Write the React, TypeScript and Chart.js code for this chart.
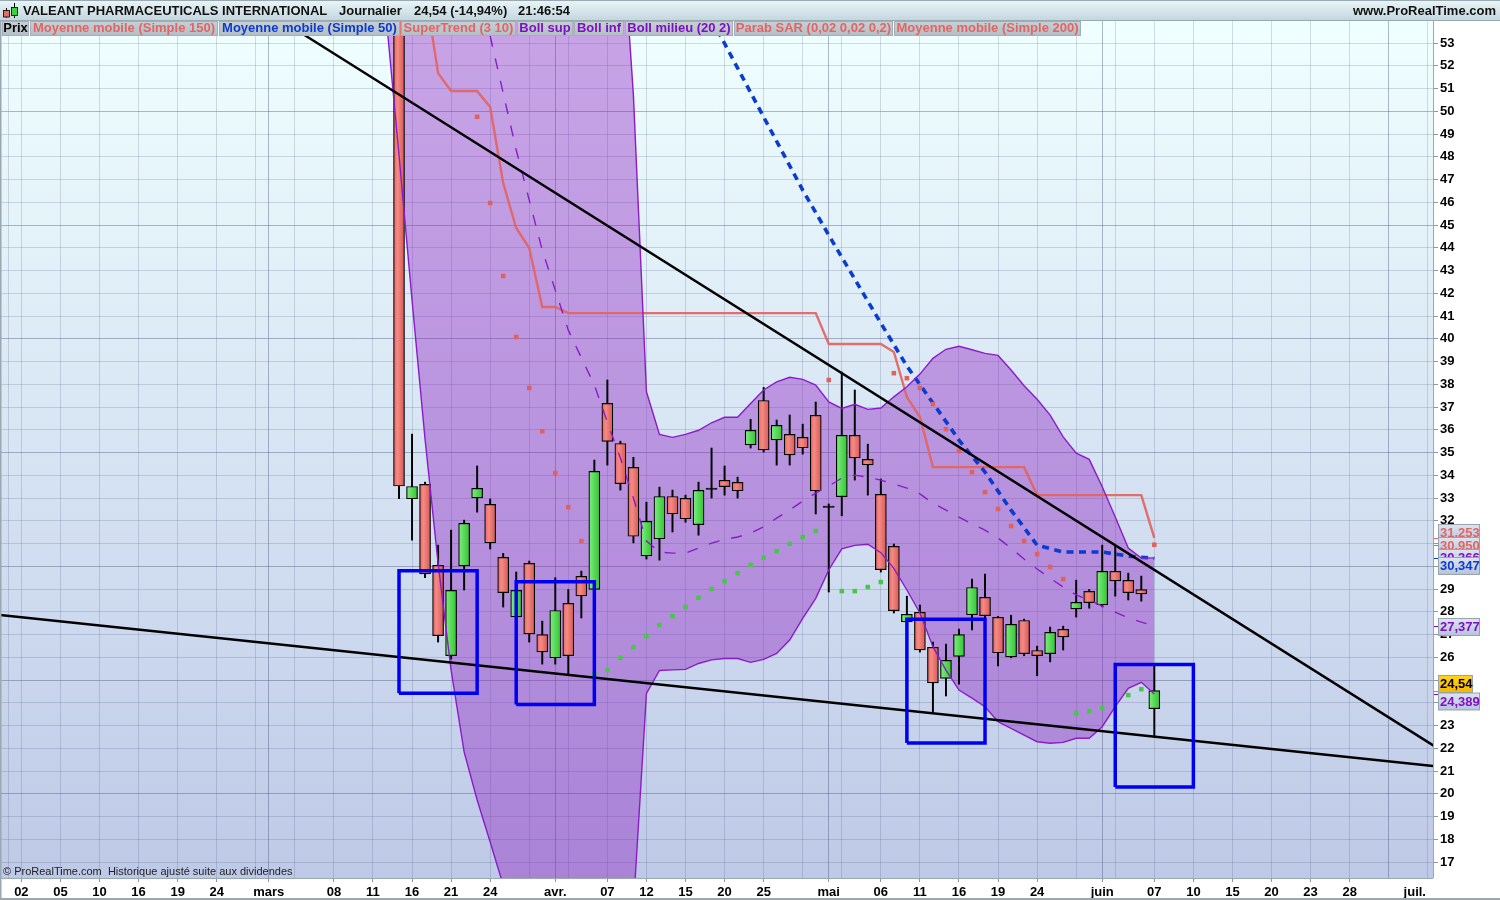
import React, { useEffect, useRef } from "react";
import { Chart, registerables } from "chart.js";

Chart.register(...registerables);

// ---------- data (x is a trading-day slot, prices in dollars) ----------
const candleSlots = [29,30,31,32,33,34,35,36,37,38,39,40,41,42,43,44,45,46,47,48,49,50,51,52,53,54,55,56,57,58,59,60,61,62,63,64,65,66,67,68,69,70,71,72,73,74,75,76,77,78,79,80,81,82,83,84,85,86,87];
const opens  = [62,32.97,33.60,30.04,26.07,30.02,33.01,32.72,30.39,27.78,30.13,27.00,25.98,28.37,29.56,28.99,37.16,35.40,34.35,30.46,31.21,33.07,32.99,31.83,33.44,33.78,33.69,35.34,37.29,35.56,35.80,35.67,36.64,32.65,33.06,35.76,34.70,33.16,30.88,27.56,27.98,26.44,25.07,26.04,27.87,28.64,27.76,26.02,27.62,26.30,26.16,27.23,28.13,28.90,28.31,29.78,29.38,28.98,23.74];
const highs  = [64,35.81,33.70,30.93,31.59,32.03,34.41,32.96,30.57,29.75,30.23,27.59,29.50,28.98,29.79,34.67,38.19,35.50,34.79,32.82,33.48,33.35,33.13,33.70,35.20,34.41,33.92,36.46,37.87,36.43,36.65,36.25,37.22,32.74,38.54,37.75,35.37,33.84,30.98,28.69,28.30,26.67,26.58,27.24,29.44,29.66,27.80,27.85,27.68,26.49,27.33,27.37,29.39,28.98,30.93,30.89,29.70,29.57,25.62];
const lows   = [32.97,31.15,29.50,26.67,25.92,28.96,32.38,30.76,28.21,27.78,26.67,25.70,25.70,25.22,27.73,28.99,34.45,33.35,31.03,30.32,30.27,31.51,31.94,31.37,33.00,33.13,33.00,35.20,35.02,34.45,34.45,34.93,32.30,28.87,32.22,33.79,33.13,29.75,27.95,27.56,26.23,23.55,24.30,24.82,27.20,27.70,25.62,25.98,26.07,25.19,25.80,26.32,27.77,28.16,28.22,28.69,28.52,28.47,22.49];
const closes = [33.53,33.51,29.67,26.95,28.94,31.89,33.43,31.03,28.84,28.94,27.03,26.24,28.06,26.07,28.70,34.17,35.49,33.63,31.32,31.98,33.07,32.31,32.09,33.34,33.38,33.50,33.32,35.98,35.12,36.20,34.90,35.21,33.32,32.59,35.76,34.77,34.46,29.85,28.05,27.89,26.33,24.88,25.87,27.00,29.07,27.83,26.20,27.45,26.16,26.07,27.10,26.90,28.42,28.40,29.78,29.36,28.84,28.79,24.54];

const bollSlots = [27,28,29,30,31,32,33,34,35,36,37,38,39,40,41,42,43,44,45,46,47,48,49,50,51,52,53,54,55,56,57,58,59,60,61,62,63,64,65,66,67,68,69,70,71,72,73,74,75,76,77,78,79,80,81,82,83,84,85,86,87];
const bollUpper = [92,91,90,88,86,84,82,80,78,76,74,72,70,68,66,64,62,60,59.5,59.2,50.7,37.67,35.80,35.67,35.80,35.98,36.31,36.55,36.55,37.16,37.75,38.11,38.31,38.22,37.97,37.23,36.94,37.12,36.90,36.96,37.45,37.89,38.45,39.14,39.54,39.67,39.52,39.36,39.27,38.63,37.94,37.34,36.65,35.69,34.97,34.70,33.50,32.17,30.80,30.36,30.37];
const bollLower = [62,54.23,48.08,41.70,35.59,30.14,25.44,21.84,19.73,17.88,15.99,15.3,14.9,14.6,14.4,14.3,14.4,14.5,14.6,14.8,15.0,24.41,25.42,25.45,25.47,25.73,25.89,25.95,25.95,25.78,25.91,26.17,26.76,27.71,28.59,29.84,30.77,30.92,30.97,30.60,29.91,28.96,27.95,26.47,25.44,24.56,24.21,23.83,23.17,22.88,22.58,22.29,22.22,22.26,22.44,22.44,22.95,23.83,24.64,24.90,24.39];

const bollMidSlots = [36,38,40,42,44,45,46,47,48,49,50,51,52,53,54,55,56,57,58,59,60,61,62,63,64,65,66,67,68,69,70,71,72,73,74,75,76,77,78,79,80,81,82,83,84,85,86,87];
const bollMid = [53.31,48.30,43.90,40.38,37.97,36.34,34.76,33.00,31.11,30.63,30.58,30.58,30.80,31.02,31.18,31.29,31.46,31.73,32.12,32.47,32.87,33.22,33.53,33.88,34.01,33.92,33.79,33.62,33.44,33.18,32.78,32.47,32.16,31.86,31.59,31.24,30.80,30.32,29.88,29.48,29.09,28.74,28.52,28.25,27.99,27.73,27.55,27.38];

const ma50Slots = [53,54,57,60,62,63,66,68,70,72,74,76,78,80,83,85,87];
const ma50 = [54.05,52.98,49.75,46.54,44.56,43.59,40.69,38.80,37.18,35.55,34.14,32.47,30.93,30.63,30.63,30.45,30.35];

const superTrendSlots = [31,32,33,35,36,37,38,39,40,41,42,61,62,66,67,68,69,70,77,78,86,87];
const superTrend = [55.4,51.68,50.89,50.89,50.19,46.85,44.87,43.99,41.40,41.40,41.13,41.13,39.77,39.77,39.42,37.44,36.56,34.36,34.36,33.13,33.13,31.25];

const sarRedSlots = [35,36,37,38,39,40,41,42,43,62,67,68,69,70,71,72,73,74,75,76,77,78,79,80,87];
const sarRed = [49.76,45.97,42.76,40.08,37.84,35.94,34.10,32.60,31.11,38.19,38.49,38.27,37.84,37.13,36.03,35.07,34.14,33.26,32.52,31.77,31.11,30.54,29.97,29.44,30.95];
const sarGreenSlots = [44,45,46,47,48,49,50,51,52,53,54,55,56,57,58,59,60,61,63,64,65,66,81,82,83,84,85,86];
const sarGreen = [25.27,25.44,25.98,26.45,26.93,27.42,27.81,28.21,28.62,29.00,29.35,29.70,30.06,30.38,30.67,30.99,31.29,31.55,28.91,28.91,29.09,29.31,23.55,23.64,23.77,24.08,24.34,24.60];

const trendFallSlots = [20, 108.5];
const trendFall = [53.98, 22.10];
const trendSupportSlots = [-1.64, 108.4];
const trendSupport = [27.86, 21.22];

const boxSlots = [[29, 35], [38, 44], [68, 74], [84, 90]];
const boxPrices = [[24.42, 29.80], [23.93, 29.32], [22.23, 27.67], [20.30, 25.69]];

const priceTicks = [53,52,51,50,49,48,47,46,45,44,43,42,41,40,39,38,37,36,35,34,33,32,31,30,29,28,27,26,25,24,23,22,21,20,19,18,17];
const gridSlots = [-1,0,3,6,9,12,15,18,19,21,24,27,30,33,36,39,41,42,45,48,51,54,57,60,62,63,66,69,72,75,78,81,83,84,87,90,93,96,99,102,105,107,108];
const monthSlots = [19,41,62,83,105];
const dateSlots = [0,3,6,9,12,15,19,24,27,30,33,36,41,45,48,51,54,57,62,66,69,72,75,78,83,87,90,93,96,99,102,107];
const dateLabels = ["02","05","10","16","19","24","mars","08","11","16","21","24","avr.","07","12","15","20","25","mai","06","11","16","19","24","juin","07","10","15","20","23","28","juil."];

const legendLabels = ["Prix","Moyenne mobile (Simple 150)","Moyenne mobile (Simple 50)","SuperTrend (3 10)","Boll sup","Boll inf","Boll milieu (20 2)","Parab SAR (0,02 0,02 0,2)","Moyenne mobile (Simple 200)"];
const lastValues = [31.253, 30.95, 30.366, 30.347, 27.377, 24.54, 24.389];
const lastLabels = ["31,253","30,950","30,366","30,347","27,377","24,54","24,389"];

// ---------- styling ----------
const FONT = '"Liberation Sans", Arial, sans-serif';
const RED = "#e06664";
const BLUE = "#0a3ccf";
const PURPLE = "#7d10c4";
const LINE_PURPLE = "#8a1cc8";
const legendColors = ["#000", RED, BLUE, RED, PURPLE, PURPLE, PURPLE, RED, RED];
const legendEdges = [2, 30, 219, 401, 517, 574, 625, 734, 894, 1082];
const tagColors = ["#e06664", "#e06664", PURPLE, BLUE, PURPLE, "#000", PURPLE];
const tagCentres = [533, 546, 558, 566, 627, 684, 701.5];

const PLOT_LEFT = 0;
const PLOT_RIGHT = 1433;
const PLOT_TOP = 21;
const PLOT_BOTTOM = 878;

const pts = (xs: number[], ys: number[]) => xs.map((x, i) => ({ x, y: ys[i] }));
const boxPts = (b: number) => {
  const [l, r] = boxSlots[b];
  const [lo, hi] = boxPrices[b];
  return [{ x: l, y: lo }, { x: l, y: hi }, { x: r, y: hi }, { x: r, y: lo }, { x: l, y: lo }];
};

const framePlugin = {
  id: "frame",
  beforeDraw(chart: any) {
    const c = chart.ctx;
    c.save();
    c.fillStyle = "#ffffff";
    c.fillRect(0, 0, 1500, 900);
    const g = c.createLinearGradient(0, PLOT_TOP, 0, PLOT_BOTTOM);
    g.addColorStop(0, "#f0ffff");
    g.addColorStop(1, "#bec9e7");
    c.fillStyle = g;
    c.fillRect(PLOT_LEFT, PLOT_TOP, PLOT_RIGHT - PLOT_LEFT, PLOT_BOTTOM - PLOT_TOP);
    c.restore();
  },
  afterDraw(chart: any) {
    const c = chart.ctx;
    const y = chart.scales.y;
    c.save();
    // header strip
    const h = c.createLinearGradient(0, 0, 0, PLOT_TOP);
    h.addColorStop(0, "#eaf6f8");
    h.addColorStop(1, "#c2d5dd");
    c.fillStyle = h;
    c.fillRect(0, 0, 1500, PLOT_TOP);
    c.fillStyle = "#9aa8b2";
    c.fillRect(0, 0, 1500, 1);
    c.fillRect(0, 20, 1500, 1);
    // icon
    c.fillStyle = "#000";
    c.fillRect(6, 8, 1, 10);
    c.fillRect(14, 3, 1, 15);
    c.fillStyle = "#e86a64";
    c.fillRect(3.5, 10.5, 6, 6.5);
    c.strokeStyle = "#000";
    c.lineWidth = 0.8;
    c.strokeRect(3.5, 10.5, 6, 6.5);
    c.fillStyle = "#3fd03f";
    c.fillRect(11.5, 7.5, 6, 8);
    c.strokeRect(11.5, 7.5, 6, 8);
    // title texts
    c.textBaseline = "middle";
    c.textAlign = "left";
    c.fillStyle = "#111";
    c.font = `bold 13px ${FONT}`;
    c.fillText("VALEANT PHARMACEUTICALS INTERNATIONAL", 23, 11);
    c.fillText("Journalier", 339, 11);
    c.fillText("24,54 (-14,94%)", 414, 11);
    c.fillText("21:46:54", 518, 11);
    c.textAlign = "right";
    c.fillText("www.ProRealTime.com", 1496, 11);
    // indicator tags
    c.textAlign = "center";
    legendLabels.forEach((label, i) => {
      const l = legendEdges[i];
      const r = legendEdges[i + 1] - 1;
      const g2 = c.createLinearGradient(0, 21, 0, 36);
      g2.addColorStop(0, "#c8d0d6");
      g2.addColorStop(1, "#b4bec6");
      c.fillStyle = g2;
      c.fillRect(l, 21, r - l, 15);
      c.strokeStyle = "#a4aeb6";
      c.lineWidth = 1;
      c.strokeRect(l + 0.5, 21.5, r - l - 1, 14);
      c.fillStyle = legendColors[i];
      c.fillText(label, (l + r) / 2, 28.5);
    });
    // frame lines
    c.fillStyle = "#9aa8b2";
    c.fillRect(0, 21, 1.5, 879);
    c.fillRect(PLOT_RIGHT, 21, 1, PLOT_BOTTOM - 21);
    c.fillRect(0, PLOT_BOTTOM, PLOT_RIGHT, 1);
    c.fillRect(0, 898, 1500, 2);
    // footer
    c.textAlign = "left";
    c.fillStyle = "#222";
    c.font = `11px ${FONT}`;
    c.fillText("© ProRealTime.com  Historique ajusté suite aux dividendes", 3, 872);
    // last-value marks and tags
    lastValues.forEach((v, i) => {
      c.fillStyle = tagColors[i] === "#000" ? "#c09000" : tagColors[i];
      c.fillRect(PLOT_RIGHT + 1, Math.round(y.getPixelForValue(v)), 5, 1);
    });
    c.font = `bold 13px ${FONT}`;
    lastLabels.forEach((label, i) => {
      const yc = tagCentres[i];
      const gold = tagColors[i] === "#000";
      const w = gold ? 35 : 42;
      const g3 = c.createLinearGradient(0, yc - 9, 0, yc + 9);
      if (gold) {
        g3.addColorStop(0, "#ffd51c");
        g3.addColorStop(1, "#f4b400");
      } else {
        g3.addColorStop(0, "#dfe5f0");
        g3.addColorStop(1, "#b6c2dc");
      }
      c.fillStyle = g3;
      c.fillRect(1438, yc - 8.5, w, 17);
      c.strokeStyle = "#98a4ac";
      c.lineWidth = 1;
      c.strokeRect(1438.5, yc - 8.5, w - 1, 17);
      c.fillStyle = tagColors[i];
      c.fillText(label, 1440, yc + 0.5);
    });
    c.restore();
  },
};

const bodyFill = (ctx: any) => {
  const raw = ctx.raw;
  if (!raw || !raw.y) return "#e06664";
  const [o, cl] = raw.y;
  if (Math.abs(o - cl) < 0.1) return "#000";
  const up = cl >= o;
  const px = ctx.chart.scales.x.getPixelForValue(raw.x);
  if (!Number.isFinite(px)) return up ? "#50d850" : "#e87068";
  const g = ctx.chart.ctx.createLinearGradient(px - 5, 0, px + 5, 0);
  if (up) {
    g.addColorStop(0, "#7cec7c");
    g.addColorStop(1, "#36c636");
  } else {
    g.addColorStop(0, "#e66a66");
    g.addColorStop(0.35, "#f58a84");
    g.addColorStop(1, "#d85c58");
  }
  return g;
};

const lineBase = { type: "line", pointRadius: 0, tension: 0, fill: false, spanGaps: true };

export default function App() {
  const ref = useRef<HTMLCanvasElement | null>(null);
  useEffect(() => {
    document.body.style.margin = "0";
    const canvas = ref.current;
    if (!canvas) return;
    const datasets: any[] = [
      // band fill, behind everything
      { ...lineBase, label: "band top", data: pts(bollSlots, bollUpper), borderWidth: 0, fill: "+1", backgroundColor: "rgba(140,27,192,0.40)", order: 100 },
      { ...lineBase, label: "band bottom", data: pts(bollSlots, bollLower), borderWidth: 0, order: 100 },
      // candles
      { type: "bar", label: "wicks", data: candleSlots.map((x, i) => ({ x, y: [lows[i], highs[i]] })), backgroundColor: "#000", borderWidth: 0, barThickness: 1.3, grouped: false, order: 51 },
      { type: "bar", label: "bodies", data: candleSlots.map((x, i) => ({ x, y: [opens[i], closes[i]] })), backgroundColor: bodyFill, borderColor: "#000", borderWidth: 1.2, borderSkipped: false, barThickness: 11, grouped: false, order: 50 },
      // indicators
      { ...lineBase, label: "Moyenne mobile (Simple 150)", data: pts(superTrendSlots, superTrend), borderColor: "rgba(226,100,98,0.92)", borderWidth: 2.4, order: 20 },
      { ...lineBase, label: "Moyenne mobile (Simple 50)", data: pts(ma50Slots, ma50), borderColor: "#0a3ccf", borderWidth: 3.6, borderDash: [7, 5.5], order: 19 },
      { ...lineBase, label: "Boll sup", data: pts(bollSlots, bollUpper), borderColor: LINE_PURPLE, borderWidth: 1.4, order: 18 },
      { ...lineBase, label: "Boll inf", data: pts(bollSlots, bollLower), borderColor: LINE_PURPLE, borderWidth: 1.4, order: 18 },
      { ...lineBase, label: "Boll milieu", data: pts(bollMidSlots, bollMid), borderColor: LINE_PURPLE, borderWidth: 1.4, borderDash: [11, 12], order: 18 },
      { ...lineBase, label: "SAR haut", data: pts(sarRedSlots, sarRed), showLine: false, pointStyle: "rect", pointRadius: 3.2, pointBackgroundColor: "#e0605c", pointBorderWidth: 0, order: 17 },
      { ...lineBase, label: "SAR bas", data: pts(sarGreenSlots, sarGreen), showLine: false, pointStyle: "rect", pointRadius: 3.2, pointBackgroundColor: "#46c846", pointBorderWidth: 0, order: 17 },
      // drawings on top
      { ...lineBase, label: "baisse", data: pts(trendFallSlots, trendFall), borderColor: "#000", borderWidth: 2.4, order: 3 },
      { ...lineBase, label: "support", data: pts(trendSupportSlots, trendSupport), borderColor: "#000", borderWidth: 2.4, order: 3 },
      ...boxSlots.map((_, b) => ({ ...lineBase, label: `zone ${b + 1}`, data: boxPts(b), borderColor: "#0000f0", borderWidth: 3.5, borderJoinStyle: "miter", order: 2 })),
    ];
    const chart = new Chart(canvas, {
      type: "bar",
      data: { datasets },
      plugins: [framePlugin],
      options: {
        responsive: false,
        animation: false,
        devicePixelRatio: 1,
        events: [],
        layout: { padding: { top: PLOT_TOP, left: 0, right: 0, bottom: 0 }, autoPadding: false },
        plugins: { legend: { display: false }, tooltip: { enabled: false }, title: { display: false } },
        scales: {
          x: {
            type: "linear",
            min: -1.64,
            max: 108.4,
            offset: false,
            afterBuildTicks: (s: any) => { s.ticks = gridSlots.map((value) => ({ value })); },
            afterFit: (s: any) => { s.height = 900 - PLOT_BOTTOM; s.paddingLeft = 0; s.paddingRight = 0; },
            border: { display: false },
            grid: {
              offset: false,
              drawOnChartArea: true,
              tickLength: 4,
              color: (ctx: any) => {
                const v = ctx.tick?.value;
                if (v === 107) return "rgba(0,0,0,0)";
                return monthSlots.includes(v) ? "rgba(70,80,120,0.40)" : "rgba(70,80,120,0.20)";
              },
              tickColor: (ctx: any) => (dateSlots.includes(ctx.tick?.value) && ctx.tick?.value !== 107 ? "#8a96a0" : "rgba(0,0,0,0)"),
            },
            ticks: {
              autoSkip: false,
              maxRotation: 0,
              minRotation: 0,
              padding: 3,
              color: "#000",
              font: { family: FONT, size: 13, weight: "bold" },
              callback: (v: any) => {
                const k = dateSlots.indexOf(Number(v));
                return k >= 0 ? dateLabels[k] : "";
              },
            },
          },
          y: {
            type: "linear",
            position: "right",
            min: 16.3,
            max: 53.97,
            afterBuildTicks: (s: any) => { s.ticks = priceTicks.map((value) => ({ value })); },
            afterFit: (s: any) => { s.width = 1500 - PLOT_RIGHT; s.paddingTop = 0; s.paddingBottom = 0; },
            border: { display: false },
            grid: {
              tickLength: 5,
              color: (ctx: any) => (ctx.tick?.value % 5 === 0 ? "rgba(70,80,120,0.40)" : "rgba(70,80,120,0.20)"),
              tickColor: "#8a96a0",
            },
            ticks: {
              padding: 2,
              color: "#000",
              autoSkip: false,
              font: { family: FONT, size: 13, weight: "bold" },
              callback: (v: any) => String(v),
            },
          },
        },
      } as any,
    } as any);
    return () => chart.destroy();
  }, []);
  return <canvas ref={ref} width={1500} height={900} style={{ display: "block" }} />;
}
